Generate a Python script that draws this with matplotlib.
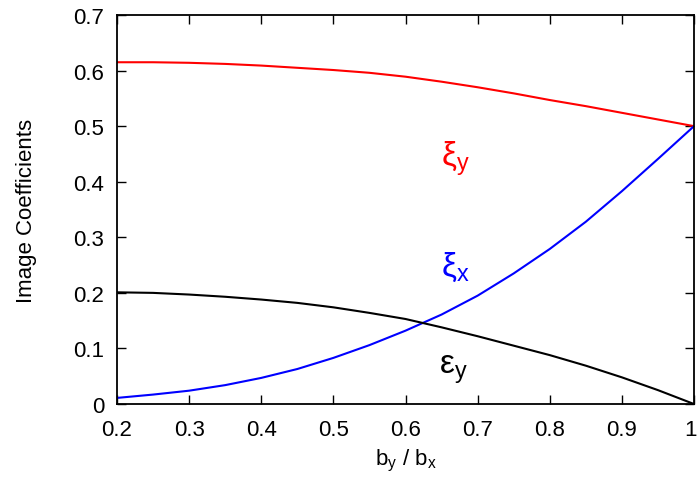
import matplotlib
matplotlib.use("Agg")
import matplotlib.pyplot as plt
from matplotlib.ticker import FuncFormatter, FormatStrFormatter, MultipleLocator

plt.rcParams['font.family'] = ['Liberation Sans', 'DejaVu Sans']
plt.rcParams['mathtext.fontset'] = 'custom'
plt.rcParams['mathtext.rm'] = 'Liberation Sans'
plt.rcParams['mathtext.it'] = 'Liberation Sans'

# aspect ratio b_y / b_x
ratio = [0.2, 0.25, 0.3, 0.35, 0.4, 0.45, 0.5, 0.55, 0.6, 0.65, 0.7,
         0.75, 0.8, 0.85, 0.9, 0.95, 1.0]

# image coefficients
xi_y = [0.615, 0.615, 0.614, 0.612, 0.609, 0.605, 0.601, 0.596, 0.589, 0.580, 0.570,
        0.559, 0.547, 0.536, 0.524, 0.512, 0.500]
xi_x = [0.011, 0.017, 0.024, 0.034, 0.047, 0.063, 0.083, 0.106, 0.132, 0.161, 0.195,
        0.235, 0.279, 0.328, 0.383, 0.441, 0.500]
eps_y = [0.201, 0.200, 0.197, 0.193, 0.188, 0.182, 0.174, 0.164, 0.153, 0.138, 0.122,
         0.105, 0.088, 0.069, 0.048, 0.025, 0.000]

fig = plt.figure(figsize=(6.98, 4.85), dpi=100)
ax = fig.add_axes([0.1676, 0.1649, 0.8267, 0.8021])

ax.plot(ratio, xi_y, color='#ff0000', lw=1.5)
ax.plot(ratio, xi_x, color='#0000ff', lw=1.5)
ax.plot(ratio, eps_y, color='black', lw=1.5)

ax.text(0.669, 0.444, r'$\mathrm{ξ_y}$', color='#ff0000', fontsize=24, ha='center', va='center')
ax.text(0.669, 0.247, r'$\mathrm{ξ_x}$', color='#0000ff', fontsize=24, ha='center', va='center')
ax.text(0.666, 0.063, r'$\mathrm{ε_y}$', color='black', fontsize=24, ha='center', va='center')

ax.set_xlim(0.2, 1.0)
ax.set_ylim(0, 0.7)
ax.xaxis.set_major_locator(MultipleLocator(0.1))
ax.yaxis.set_major_locator(MultipleLocator(0.1))
# the label at x=1 sits on the canvas edge, so it is drawn separately below
ax.xaxis.set_major_formatter(FuncFormatter(lambda v, p: '' if v > 0.99 else '%g' % v))
ax.yaxis.set_major_formatter(FormatStrFormatter('%g'))
ax.tick_params(direction='in', length=6.5, width=1, top=True, right=True,
               labelsize=16, pad=9)
ax.tick_params(axis='x', pad=11)
for s in ax.spines.values():
    s.set_linewidth(1.3)

ax.annotate('1', xy=(1.0, 0), xycoords=('data', 'axes fraction'),
            xytext=(-2.5, -11), textcoords='offset points',
            ha='center', va='top', fontsize=16, annotation_clip=False)

ax.set_xlabel(r'$\mathrm{b_y\ /\ b_x}$', fontsize=16, labelpad=5)
ax.set_ylabel('Image Coefficients', fontsize=16, labelpad=26)

fig.savefig('out.png', dpi=100)
